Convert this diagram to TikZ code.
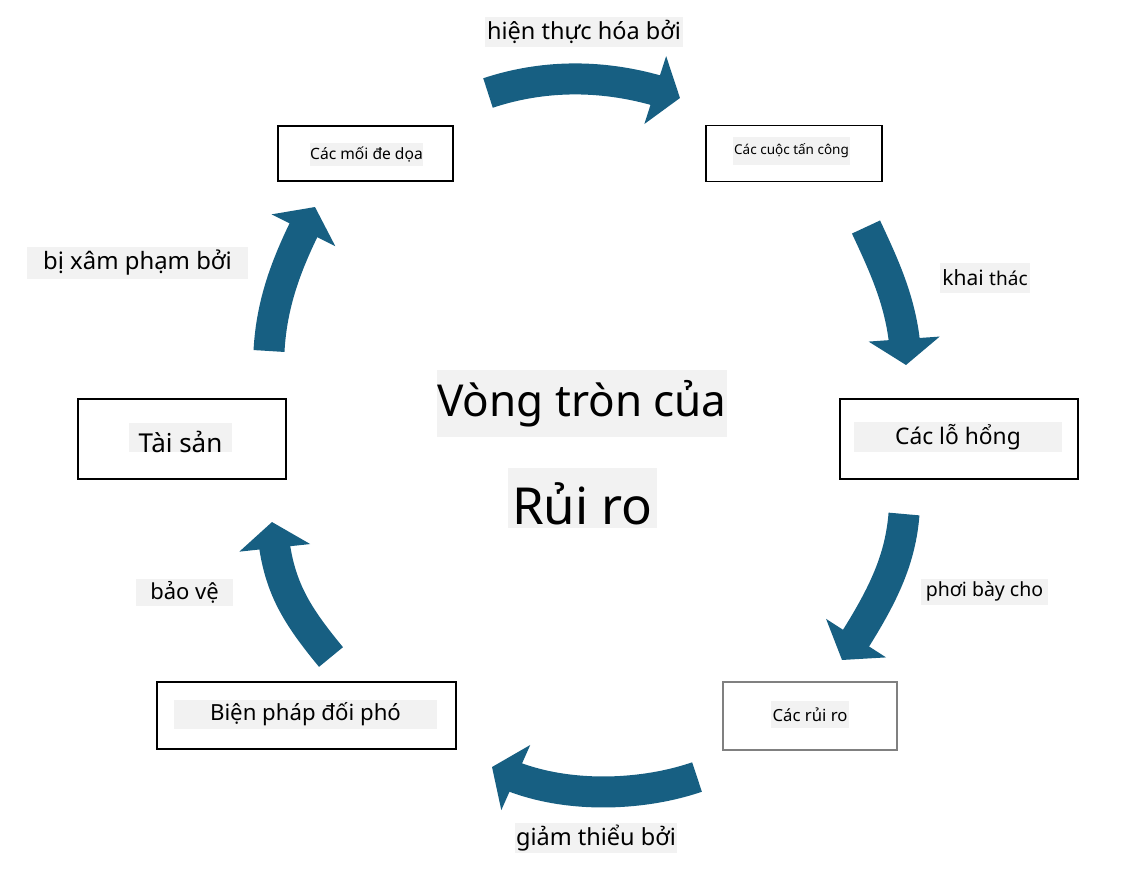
\documentclass[tikz,border=0pt]{standalone}
\usepackage{fontspec}
\setmainfont{Noto Sans}
\usetikzlibrary{arrows.meta,bending}
\definecolor{flowblue}{RGB}{23,95,130}
\definecolor{bggray}{RGB}{242,242,242}
\definecolor{boxgray}{RGB}{128,128,128}
\newcommand{\fsz}[1]{\fontsize{#1}{#1}\selectfont}
\tikzset{
  box/.style={draw=black, line width=1.1pt, inner sep=0pt},
  tbg/.style={fill=bggray, inner sep=0pt, text=black},
  flow/.style={line width=31pt, draw=flowblue, -{Triangle[length=26pt,width=70pt,flex]}}
}
\begin{document}
\begin{tikzpicture}[x=1pt,y=-1pt]
\useasboundingbox (0,0) rectangle (1121,876);
% boxes
\node[box, minimum width=175pt, minimum height=55pt] (threats) at (365.5,153.5) {};
\node[box, minimum width=176pt, minimum height=56pt] (attacks) at (794,153.5) {};
\node[box, minimum width=238pt, minimum height=80pt] (vulns) at (959,439) {};
\node[box, draw=boxgray, minimum width=174pt, minimum height=68pt] (risks) at (810,716) {};
\node[box, minimum width=299pt, minimum height=67pt] (counter) at (306.5,715.5) {};
\node[box, minimum width=208pt, minimum height=80pt] (assets) at (182,439) {};
% box texts
\node[tbg, minimum width=113pt, minimum height=23pt] (tthreats) at (366.5,154.5) {\fsz{15.6}Các mối đe dọa};
\node[tbg, minimum width=117pt, minimum height=28pt] (tattacks) at (791.5,151) {\fsz{13.5}Các cuộc tấn công};
\node[tbg, minimum width=208pt, minimum height=30pt] (tvulns) at (958,437) {\fsz{22.8}Các lỗ hổng};
\node[tbg, minimum width=78pt, minimum height=27pt] (trisks) at (810,714.5) {\fsz{16.7}Các rủi ro};
\node[tbg, minimum width=263pt, minimum height=29pt] (tcounter) at (305.5,714.5) {\fsz{22.2}Biện pháp đối phó};
\node[tbg, minimum width=103pt, text height=29pt, text depth=0pt] (tassets) at (180.5,437.5) {\fsz{26}Tài sản};
% title
\node[tbg, minimum width=290pt, minimum height=67pt] (title1) at (582,403.5) {\fsz{44}Vòng tròn của};
\node[tbg, minimum width=149pt, text height=56pt, text depth=4pt] (title2) at (582.5,498) {\fsz{51}Rủi ro};
% labels
\node[tbg, minimum width=198pt, minimum height=30pt] (l1) at (584,32) {\fsz{23.5}hiện thực hóa bởi};
\node[tbg, minimum width=90pt, minimum height=30pt] (l2) at (985,278) {\fsz{21}khai {\fsz{19}thác}};
\node[tbg, minimum width=127pt, minimum height=26pt] (l3) at (984.5,591.5) {\fsz{19.5}phơi bày cho};
\node[tbg, minimum width=162pt, minimum height=30pt] (l4) at (596,838) {\fsz{23.5}giảm thiểu bởi};
\node[tbg, minimum width=97pt, minimum height=27pt] (l5) at (184.5,592.5) {\fsz{22}bảo vệ};
\node[tbg, minimum width=221pt, minimum height=32pt] (l6) at (137.5,263) {\fsz{23.9}bị xâm phạm bởi};
% arrow end points
\coordinate (a1s) at (488,93);  \coordinate (a1e) at (680,98);
\coordinate (a2s) at (866,227); \coordinate (a2e) at (906,365);
\coordinate (a3s) at (904,514); \coordinate (a3e) at (842,660);
\coordinate (a4s) at (697,777); \coordinate (a4e) at (492,767);
\coordinate (a5s) at (331,657); \coordinate (a5e) at (272,522);
\coordinate (a6s) at (269,351); \coordinate (a6e) at (315,207);
% arrows
\draw[flow] (a1s) .. controls (548,73) and (614,74) .. (a1e);
\draw[flow] (a2s) .. controls (886,270) and (905,310) .. (a2e);
\draw[flow] (a3s) .. controls (900,564) and (880,602) .. (a3e);
\draw[flow] (a4s) .. controls (639,797) and (554,800) .. (a4e);
\draw[flow] (a5s) .. controls (293,611) and (276,582) .. (a5e);
\draw[flow] (a6s) .. controls (272,295) and (292,252) .. (a6e);
\end{tikzpicture}
\end{document}
